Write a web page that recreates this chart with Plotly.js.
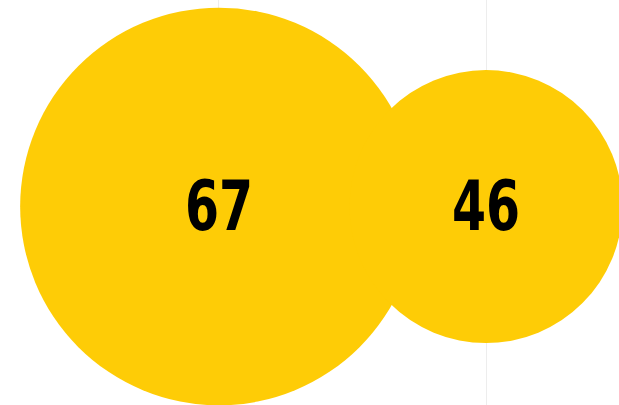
<!DOCTYPE html>
<html>
<head>
<meta charset="utf-8">
<script src="https://cdn.plot.ly/plotly-3.0.1.min.js"></script>
<style>
html,body{margin:0;padding:0;background:#fff;}
#chart{width:619px;height:405px;}
#chart .textpoint text{transform-box:fill-box;transform-origin:center;transform:translate(0px,6px) scaleX(0.7);}
</style>
</head>
<body>
<div id="chart"></div>
<script>
const categories = ["A", "B"];
const values = [67, 46];
const labels = ["67", "46"];

const trace = {
  type: "scatter",
  mode: "markers+text",
  x: [0, 1],
  y: [0, 0],
  text: labels,
  textposition: "middle center",
  textfont: {family: "'DejaVu Sans', sans-serif", size: 70, color: "#000", weight: "bold"},
  marker: {
    size: values,
    sizemode: "diameter",
    sizeref: 0.1685,
    color: "#FECC06",
    opacity: 1,
    line: {width: 0}
  },
  hoverinfo: "none",
  cliponaxis: true
};

const layout = {
  width: 619,
  height: 405,
  margin: {l: 0, r: 0, t: 0, b: 0},
  paper_bgcolor: "#fff",
  plot_bgcolor: "#fff",
  showlegend: false,
  xaxis: {
    range: [-0.82, 1.498],
    showgrid: true,
    gridcolor: "rgba(0,0,0,0.07)",
    gridwidth: 1,
    tickvals: [0, 1],
    showticklabels: false,
    zeroline: false,
    showline: false,
    ticks: "",
    layer: "above traces",
    fixedrange: true
  },
  yaxis: {
    range: [-0.98, 1.02],
    showgrid: false,
    zeroline: false,
    showticklabels: false,
    showline: false,
    ticks: "",
    fixedrange: true
  }
};

Plotly.newPlot("chart", [trace], layout, {displayModeBar: false, staticPlot: true});
</script>
</body>
</html>
